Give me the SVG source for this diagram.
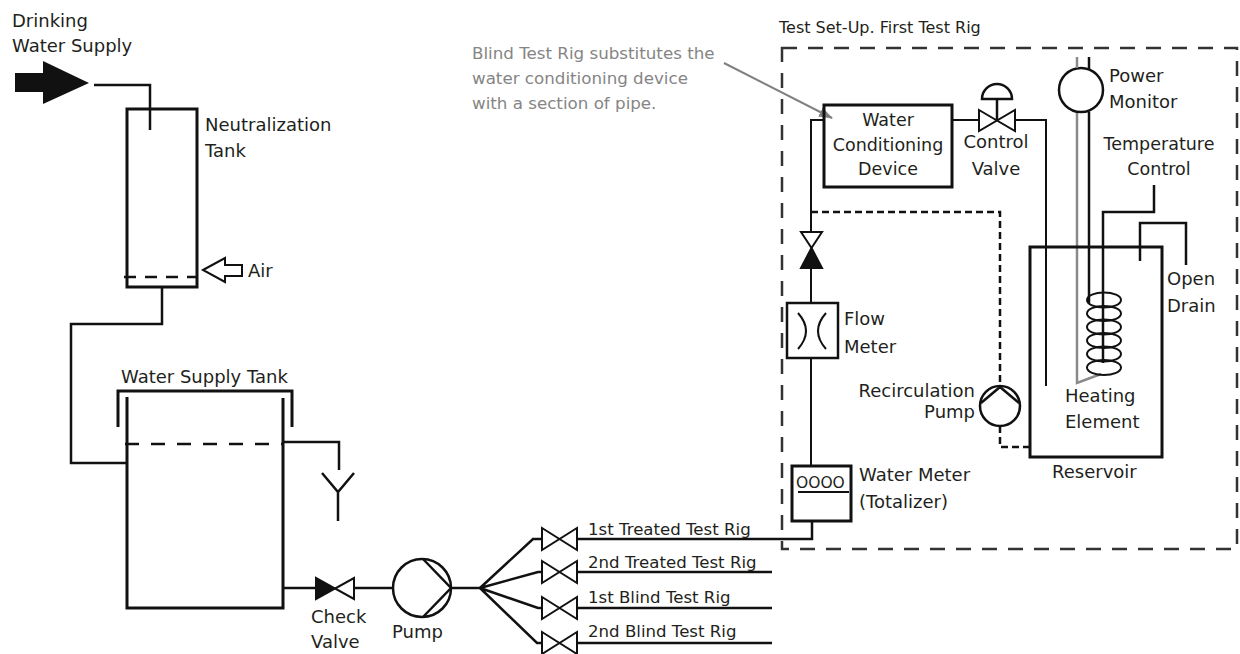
<svg xmlns="http://www.w3.org/2000/svg" width="1240" height="654" viewBox="0 0 1240 654">
<defs>
<style>
.p{stroke:#111;stroke-width:2.5;fill:none}
.t{stroke:#111;stroke-width:2;fill:none}
.w{stroke:#111;stroke-width:3;fill:none}
.g{stroke:#8a8a8a;stroke-width:2.5;fill:none}
.vo{stroke:#111;stroke-width:2;fill:#fff}
.vf{stroke:#111;stroke-width:2;fill:#111}
.lbl{font-family:"DejaVu Sans","Liberation Sans",sans-serif;font-size:18px;fill:#231f20}
.sm{font-size:16.6px}
.mid{text-anchor:middle}
.end{text-anchor:end}
.note{font-family:"DejaVu Sans","Liberation Sans",sans-serif;font-size:16.7px;fill:#858585}
</style>
<marker id="ga" viewBox="0 0 14 10" refX="13" refY="5" markerWidth="14" markerHeight="10" markerUnits="userSpaceOnUse" orient="auto">
<path d="M0,0 L14,5 L0,10 z" fill="#808080"/>
</marker>
</defs>
<rect width="1240" height="654" fill="#fff"/>

<g id="connectors">
<path class="p" d="M94,85 H150 V130"/>
<path class="p" d="M162,287 V324 H71 V463 H127"/>
<path class="p" d="M283,442 H339 V470"/>
<path class="p" d="M283,588 H316"/>
<path class="p" d="M354,588 H393"/>
<path class="p" d="M451,588 H480"/>
<path class="p" d="M480,588 L533,539 H542 M480,588 L538,572 H542 M480,588 L538,608 H542 M480,588 L537,643 H542"/>
<path class="p" d="M577,539 H812 V521"/>
<path class="p" d="M577,572 H772 M577,608 H772 M577,643 H772"/>
<path class="t" d="M824,120 H811 V232 M811,268 V303 M811,358 V466"/>
<path class="t" d="M952,120 H979 M1015,120 H1046 V386"/>
<path class="p" stroke-dasharray="7,4" d="M811,212 H1000 V386 M1000,426 V447 H1030"/>
<path class="p" d="M1089,112 V303"/>
<path class="g" d="M1077,112 V383 L1101,374"/>
<path class="p" d="M1154,185 V212 H1103 V363"/>
<path class="p" d="M1140,261 V223 H1186 V265"/>
<line x1="724" y1="63" x2="832" y2="118" stroke="#808080" stroke-width="2" marker-end="url(#ga)"/>
</g>

<g id="supply-arrow">
<polygon points="15,73 43,73 43,61 89,83 43,104 43,92 15,92" fill="#111"/>
<text class="lbl" x="12" y="27">Drinking</text>
<text class="lbl" x="12" y="52">Water Supply</text>
</g>

<g id="neutralization-tank">
<rect class="w" x="127" y="109" width="70" height="178"/>
<line class="p" x1="124" y1="277" x2="197" y2="277" stroke-dasharray="12,9"/>
<text class="lbl" x="205" y="131">Neutralization</text>
<text class="lbl" x="205" y="157">Tank</text>
</g>

<g id="air">
<polygon points="203,270 225,258 225,265 242,265 242,276 225,276 225,282" fill="#fff" stroke="#111" stroke-width="2"/>
<text class="lbl" x="248" y="277">Air</text>
</g>

<g id="water-supply-tank">
<path class="w" d="M127,397 V608 H283 V398"/>
<path class="w" d="M118,427 V391 H292 V427"/>
<line class="p" x1="125" y1="444" x2="283" y2="444" stroke-dasharray="14,12"/>
<text class="lbl" x="121" y="383">Water Supply Tank</text>
</g>

<g id="drain-funnel">
<path class="p" d="M322,473 L338,492 L354,473 M338,492 V521"/>
</g>

<g id="check-valve">
<polygon class="vf" points="316,578 316,599 335,588.5"/>
<polygon class="vo" points="354,578 354,599 335,588.5"/>
<text class="lbl" x="311" y="623">Check</text>
<text class="lbl" x="311" y="648">Valve</text>
</g>

<g id="pump">
<circle class="p" cx="422" cy="588" r="29"/>
<path class="p" d="M423,559 L451,588 L423,617"/>
<text class="lbl" x="392" y="638">Pump</text>
</g>

<g id="rig-valves">
<path class="vo" d="M542,528 L577,550 V528 L542,550 Z"/>
<path class="vo" d="M542,561 L577,583 V561 L542,583 Z"/>
<path class="vo" d="M542,597 L577,619 V597 L542,619 Z"/>
<path class="vo" d="M542,632 L577,654 V632 L542,654 Z"/>
<text class="lbl sm" x="588" y="535">1st Treated Test Rig</text>
<text class="lbl sm" x="588" y="568">2nd Treated Test Rig</text>
<text class="lbl sm" x="588" y="603">1st Blind Test Rig</text>
<text class="lbl sm" x="588" y="637">2nd Blind Test Rig</text>
</g>

<g id="test-rig-boundary">
<rect x="782" y="48" width="455" height="501" fill="none" stroke="#333" stroke-width="2.5" stroke-dasharray="15,11"/>
<text class="lbl" style="font-size:16px" x="779" y="33">Test Set-Up. First Test Rig</text>
</g>

<g id="callout">
<text class="note" x="472" y="59">Blind Test Rig substitutes the</text>
<text class="note" x="472" y="84">water conditioning device</text>
<text class="note" x="472" y="109">with a section of pipe.</text>
</g>

<g id="water-conditioning-device">
<rect class="w" x="824" y="105" width="128" height="82"/>
<text class="lbl mid" style="font-size:17.5px" x="888" y="126">Water</text>
<text class="lbl mid" style="font-size:17.5px" x="888" y="151">Conditioning</text>
<text class="lbl mid" style="font-size:17.5px" x="888" y="175">Device</text>
</g>

<g id="control-valve">
<path class="vo" d="M979,110 L1015,131 V110 L979,131 Z"/>
<line class="p" x1="997" y1="120" x2="997" y2="99"/>
<path class="p" d="M982,99 A15,15 0 0 1 1012,99 Z"/>
<text class="lbl mid" x="996" y="148">Control</text>
<text class="lbl mid" x="996" y="175">Valve</text>
</g>

<g id="power-monitor">
<circle class="p" cx="1081" cy="90" r="22"/>
<line class="g" x1="1077" y1="57" x2="1077" y2="68"/>
<line class="p" x1="1089" y1="57" x2="1089" y2="69"/>
<text class="lbl" x="1109" y="82">Power</text>
<text class="lbl" x="1109" y="108">Monitor</text>
</g>

<g id="temperature-control">
<text class="lbl mid" style="font-size:17.5px" x="1159" y="150">Temperature</text>
<text class="lbl mid" style="font-size:17.5px" x="1159" y="175">Control</text>
</g>

<g id="check-valve-vertical">
<polygon class="vo" points="801,232 822,232 811.5,248"/>
<polygon class="vf" points="801,268 822,268 811.5,248"/>
</g>

<g id="flow-meter">
<rect class="p" x="787" y="303" width="51" height="55"/>
<path class="t" d="M798,313 Q814,331 798,349 M826,313 Q810,331 826,349"/>
<text class="lbl" x="844" y="325">Flow</text>
<text class="lbl" x="844" y="353">Meter</text>
</g>

<g id="recirculation-pump">
<circle class="p" cx="1000" cy="406" r="20"/>
<path class="p" d="M981,403 L1000,387 L1019,403"/>
<text class="lbl end" x="975" y="397">Recirculation</text>
<text class="lbl end" x="975" y="418">Pump</text>
</g>

<g id="water-meter">
<rect class="w" x="792" y="466" width="59" height="55"/>
<line class="t" x1="798" y1="492" x2="849" y2="492"/>
<text class="lbl" style="font-size:15.5px" x="796" y="488">OOOO</text>
<text class="lbl" x="859" y="481">Water Meter</text>
<text class="lbl" x="859" y="508">(Totalizer)</text>
</g>

<g id="reservoir">
<rect class="w" x="1030" y="247" width="132" height="210"/>
<text class="lbl" x="1052" y="478">Reservoir</text>
</g>

<g id="heating-element">
<g fill="none" stroke="#111" stroke-width="2">
<ellipse cx="1104" cy="300" rx="17" ry="7.5"/>
<ellipse cx="1104" cy="313.5" rx="17" ry="7.5"/>
<ellipse cx="1104" cy="327" rx="17" ry="7.5"/>
<ellipse cx="1104" cy="340.5" rx="17" ry="7.5"/>
<ellipse cx="1104" cy="354" rx="17" ry="7.5"/>
<ellipse cx="1104" cy="367.5" rx="17" ry="7.5"/>
</g>
<text class="lbl" x="1065" y="402">Heating</text>
<text class="lbl" x="1065" y="428">Element</text>
</g>

<g id="open-drain">
<text class="lbl" x="1167" y="285">Open</text>
<text class="lbl" x="1167" y="312">Drain</text>
</g>
</svg>
